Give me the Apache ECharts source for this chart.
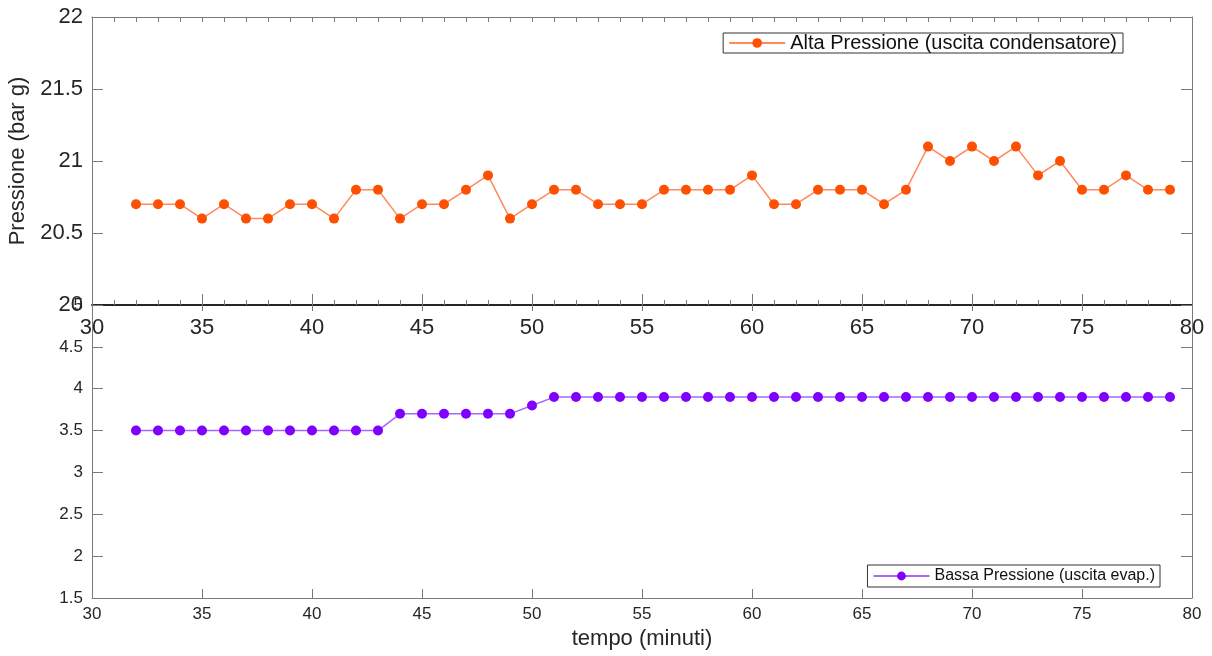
<!DOCTYPE html>
<html>
<head>
<meta charset="utf-8">
<script src="https://cdn.jsdelivr.net/npm/echarts@6/dist/echarts.min.js"></script>
<style>
	html, body { margin: 0; padding: 0; background: #fff; }
	#chart { width: 1212px; height: 656px; }
</style>
</head>
<body>
<div id="chart"></div>
<script>
/*
 * dati
 */
var minuti = [32, 33, 34, 35, 36, 37, 38, 39, 40, 41, 42, 43, 44, 45, 46, 47, 48, 49, 50, 51, 52, 53, 54, 55,
	56, 57, 58, 59, 60, 61, 62, 63, 64, 65, 66, 67, 68, 69, 70, 71, 72, 73, 74, 75, 76, 77, 78, 79];
var altaPressione = [20.7, 20.7, 20.7, 20.6, 20.7, 20.6, 20.6, 20.7, 20.7, 20.6, 20.8, 20.8, 20.6, 20.7, 20.7, 20.8,
	20.9, 20.6, 20.7, 20.8, 20.8, 20.7, 20.7, 20.7, 20.8, 20.8, 20.8, 20.8, 20.9, 20.7, 20.7, 20.8, 20.8, 20.8,
	20.7, 20.8, 21.1, 21.0, 21.1, 21.0, 21.1, 20.9, 21.0, 20.8, 20.8, 20.9, 20.8, 20.8];
var bassaPressione = [3.5, 3.5, 3.5, 3.5, 3.5, 3.5, 3.5, 3.5, 3.5, 3.5, 3.5, 3.5, 3.7, 3.7, 3.7, 3.7, 3.7, 3.7,
	3.8, 3.9, 3.9, 3.9, 3.9, 3.9, 3.9, 3.9, 3.9, 3.9, 3.9, 3.9, 3.9, 3.9, 3.9, 3.9, 3.9, 3.9, 3.9, 3.9, 3.9, 3.9,
	3.9, 3.9, 3.9, 3.9, 3.9, 3.9, 3.9, 3.9];

function coppie(xs, ys){
	var out = [];
	for (var i = 0; i < xs.length; i++) out.push([xs[i], ys[i]]);
	return out;
}

var fontBase = '"Liberation Sans", Arial, sans-serif';
var assi = '#262626';
var grigio = '#7a7a7a';

var myChart = echarts.init(document.getElementById('chart'));
var option = {
	animation: false,
	textStyle: { fontFamily: fontBase },
	grid: [
		{ left: 92, right: 20, top: 17, height: 288, outerBoundsMode: 'none', containLabel: false },
		{ left: 92, right: 20, top: 305, height: 293, outerBoundsMode: 'none', containLabel: false }
	],
	legend: [
		{
			data: ['Alta Pressione (uscita condensatore)'],
			right: 89, top: 33,
			itemWidth: 56, itemHeight: 12,
			borderColor: '#333', borderWidth: 1, borderRadius: 0,
			padding: [0, 6, 0, 5],
			textStyle: { fontSize: 20, color: '#111', fontFamily: fontBase }
		},
		{
			data: ['Bassa Pressione (uscita evap.)'],
			right: 52, top: 565,
			itemWidth: 56, itemHeight: 11,
			borderColor: '#333', borderWidth: 1, borderRadius: 0,
			padding: [3, 5, 3, 5],
			textStyle: { fontSize: 16, color: '#111', fontFamily: fontBase }
		}
	],
	xAxis: [
		{
			gridIndex: 0, type: 'value', position: 'bottom', min: 30, max: 80, interval: 5,
			axisLine: { lineStyle: { color: assi, width: 2 } },
			axisTick: { inside: true, length: 11, lineStyle: { color: grigio } },
			minorTick: { show: true, splitNumber: 5, length: 5, lineStyle: { color: grigio } },
			splitLine: { show: false },
			axisLabel: { fontSize: 22, color: assi, margin: 12 }
		},
		{
			gridIndex: 0, type: 'value', position: 'top', min: 30, max: 80, interval: 5,
			axisLine: { lineStyle: { color: grigio } },
			axisTick: { show: true, inside: true, length: 5, lineStyle: { color: grigio } },
			minorTick: { show: true, splitNumber: 5, length: 5, lineStyle: { color: grigio } },
			splitLine: { show: false },
			axisLabel: { show: false }
		},
		{
			gridIndex: 1, type: 'value', position: 'bottom', min: 30, max: 80, interval: 5,
			name: 'tempo (minuti)', nameLocation: 'middle', nameGap: 30,
			nameTextStyle: { fontSize: 22, color: assi },
			axisLine: { lineStyle: { color: grigio } },
			axisTick: { inside: true, length: 9, lineStyle: { color: grigio } },
			splitLine: { show: false },
			axisLabel: { fontSize: 17, color: assi, margin: 8 }
		},
		{
			gridIndex: 1, type: 'value', position: 'top', min: 30, max: 80, interval: 5,
			axisLine: { show: false },
			axisTick: { inside: true, length: 6, lineStyle: { color: grigio } },
			splitLine: { show: false },
			axisLabel: { show: false }
		}
	],
	yAxis: [
		{
			gridIndex: 0, type: 'value', position: 'left', min: 20, max: 22, interval: 0.5,
			name: 'Pressione (bar g)', nameLocation: 'middle', nameGap: 60,
			nameTextStyle: { fontSize: 22, color: assi },
			axisLine: { show: true, lineStyle: { color: grigio } },
			axisTick: { inside: true, length: 11, lineStyle: { color: grigio } },
			splitLine: { show: false },
			axisLabel: { fontSize: 22, color: assi, margin: 9 }
		},
		{
			gridIndex: 0, type: 'value', position: 'right', min: 20, max: 22, interval: 0.5,
			axisLine: { show: true, lineStyle: { color: grigio } },
			axisTick: { inside: true, length: 11, lineStyle: { color: grigio } },
			splitLine: { show: false },
			axisLabel: { show: false }
		},
		{
			gridIndex: 1, type: 'value', position: 'left', min: 1.5, max: 5, interval: 0.5,
			axisLine: { show: true, lineStyle: { color: grigio } },
			axisTick: { inside: true, length: 11, lineStyle: { color: grigio } },
			splitLine: { show: false },
			axisLabel: { fontSize: 17, color: assi, margin: 9 }
		},
		{
			gridIndex: 1, type: 'value', position: 'right', min: 1.5, max: 5, interval: 0.5,
			axisLine: { show: true, lineStyle: { color: grigio } },
			axisTick: { inside: true, length: 11, lineStyle: { color: grigio } },
			splitLine: { show: false },
			axisLabel: { show: false }
		}
	],
	series: [
		{
			name: 'Alta Pressione (uscita condensatore)',
			type: 'line', xAxisIndex: 0, yAxisIndex: 0,
			data: coppie(minuti, altaPressione),
			symbol: 'circle', symbolSize: 10,
			itemStyle: { color: '#ff4f00' },
			lineStyle: { color: '#ff8a5c', width: 1.5 }
		},
		{
			name: 'Bassa Pressione (uscita evap.)',
			type: 'line', xAxisIndex: 2, yAxisIndex: 2,
			data: coppie(minuti, bassaPressione),
			symbol: 'circle', symbolSize: 10,
			itemStyle: { color: '#7f00ff' },
			lineStyle: { color: '#a866ff', width: 1.5 }
		}
	]
};
myChart.setOption(option);
</script>
</body>
</html>
